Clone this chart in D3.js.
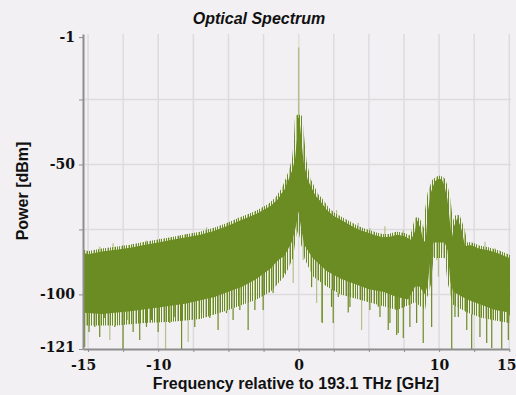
<!DOCTYPE html>
<html>
<head>
<meta charset="utf-8">
<script src="https://cdn.jsdelivr.net/npm/d3@7"></script>
<style>
  html, body { margin: 0; padding: 0; background: #f2f0f3; }
  svg { display: block; }
</style>
</head>
<body>
<figure id="spectrum" style="margin:0"></figure>
<script>
// upper edge of the dense noise band (GHz, dBm)
const topF = [-15.33, -15, -14, -13, -12, -11, -10, -9, -8, -7, -6, -5, -4, -3, -2, -1.5, -1, -0.7, -0.45, -0.25, -0.12, -0.05,
  0.05, 0.12, 0.22, 0.35, 0.65, 1.2, 1.5, 2, 2.5, 3, 3.5, 4, 4.5, 5, 5.5, 6, 6.5, 7, 7.5, 8, 8.25, 8.45, 8.7, 8.9, 9.05,
  9.2, 9.4, 9.7, 10, 10.2, 10.4, 10.6, 10.75, 10.9, 11.05, 11.3, 11.6, 11.85, 12.2, 12.5, 12.8, 13.5, 14.2, 15];
const topV = [-84, -84.5, -83.5, -82.8, -82, -81, -80, -79, -78, -77, -75.5, -73.5, -71.2, -69, -66, -63.5, -59.5, -55.5, -52, -47.5, -40, -32,
  -32, -36, -42, -49, -56, -62, -63.8, -67.5, -69.8, -71.3, -72.8, -74.3, -75.5, -76.4, -77.3, -78, -77.8, -77, -77.5, -79, -76, -71.5, -75, -80, -79,
  -68, -61, -56.5, -55.5, -55.8, -58.5, -63.5, -71, -78.5, -74, -70.5, -75, -81.5, -81, -81.5, -82.3, -83, -84.2, -86];

// lower edge of the solid part of the band
const lowF = [-15.33, -14, -12, -10, -8, -6, -5, -4, -3, -2, -1.5, -1, -0.5, -0.2, 0, 0.15, 0.4, 1, 2, 3, 4, 5, 6, 7, 7.8,
  8.3, 8.6, 9, 9.2, 9.4, 9.6, 10.4, 10.6, 10.8, 11, 12, 13, 14, 15];
const lowV = [-107, -107.5, -106.5, -105, -103.5, -101, -99, -97, -94, -90, -87, -85, -80, -74, -68, -74, -81, -86, -91, -94, -96, -98, -99, -101, -102,
  -97, -97, -100, -96, -85, -80, -80, -83, -95, -99, -102, -104, -106, -107];

// lower edge of the hairy fringe under the solid part
const fringeF = [-15.33, -13, -11, -9, -7, -5, -4, -3, -2, -1, -0.4, 0, 0.4, 1, 2, 3, 5, 7, 8.3, 9, 9.4, 9.6, 10.4, 10.8, 11, 12, 13, 14, 15];
const fringeV = [-112, -112, -111, -110.5, -109.5, -106, -104, -102, -99, -93, -86, -70, -86, -93, -97, -100, -103, -106, -103, -106, -92, -86, -86,
  -100, -104, -107, -109, -110, -111];

// downward spikes below the band
const dipsDark = [[-15.24, -120.2], [-14.93, -114.5], [-14.52, -112.5], [-14.17, -116.4], [-13.81, -109.1], [-13.1, -112.5],
  [-12.51, -121], [-12.15, -109.8], [-11.79, -114.5], [-11.32, -117.5], [-10.84, -112.5], [-10.48, -109.8], [-10.01, -114.5],
  [-9.18, -111], [-8.82, -108.7], [-8.34, -121], [-7.4, -112.5], [-6.92, -107.2], [-6.33, -109.1], [-5.74, -113.7],
  [-5.14, -107.2], [-4.67, -109.8], [-4.19, -106], [-3.6, -113.7], [-3.12, -106], [-2.53, -106], [-1.82, -99.5], [-0.98, -91.8],
  [0.92, -97.2], [1.68, -111], [2.34, -104.8], [2.46, -111], [2.82, -101], [3.53, -107], [3.65, -104.8], [5.07, -106],
  [5.67, -104.7], [5.79, -108.7], [6.38, -113.7], [6.5, -111], [6.98, -115.6], [7.09, -114.8], [7.45, -116.8], [7.92, -112.5],
  [8.4, -111], [8.87, -118.7], [9.47, -112.5], [10.9, -121], [11.13, -108.7], [11.37, -108.7], [11.97, -113.7], [12.32, -121],
  [12.91, -116.4], [13.39, -118.7], [13.75, -120.6], [14.46, -121], [14.93, -117.5]];
const dipsLight = [[-13.45, -117.5], [-9.48, -121], [-7.87, -118.3], [-0.39, -95.6], [0.32, -86.8], [1.28, -103.3], [1.63, -110.6],
  [4.48, -113.7], [8.33, -99.5], [9.1, -90.6], [9.58, -85.5], [9.83, -86.8], [9.95, -93.2], [10.3, -84], [10.54, -86.8]];

// faint spikes above the band
const upsLight = [[-15.24, -82.9], [-14.17, -81.7], [-13.22, -80.3], [-12.51, -81], [-11.79, -80.5], [-10.84, -79.3], [-9.89, -78.6],
  [-9.18, -78.2], [-8.47, -77.4], [-7.99, -76.8], [-6.56, -74.2], [-5.02, -72.3], [-4.31, -70.4], [-3.12, -68.5], [-2.29, -66.5],
  [-1.22, -61], [-0.86, -56], [2.7, -67.5], [4.24, -72.5], [5.07, -74.4], [6.14, -73.8], [7.45, -75.2], [13.27, -79.7], [13.98, -82.2]];

// carrier line at 0 GHz: freq, band top, line top, faint top
const carrier = [0, -32, -5, -1];

const xTicks = [-15, -10, 0, 10, 15];
const xGrid = [-15, -12.5, -10, -7.5, -5, -2.5, 0, 2.5, 5, 7.5, 10, 12.5, 15];
const yTicks = [-1, -50, -100, -121];
const yGrid = [-100, -75, -50, -25];

const width = 516, height = 395;
const green = "#6b8b23", lightGreen = "#b2c28a";

const svg = d3.select("figure#spectrum")
  .append("svg")
  .attr("width", width)
  .attr("height", height);

svg.append("rect").attr("width", width).attr("height", height).attr("fill", "#f2f0f3");

const defs = svg.append("defs");

// hair texture for the noisy edges
const hair = defs.append("pattern")
  .attr("id", "hair").attr("patternUnits", "userSpaceOnUse")
  .attr("width", 7).attr("height", 20);
hair.append("rect").attr("x", 0).attr("width", 1).attr("height", 20).attr("fill", green);
hair.append("rect").attr("x", 2).attr("width", 1).attr("height", 20).attr("fill", lightGreen);
hair.append("rect").attr("x", 3).attr("width", 1).attr("height", 20).attr("fill", green);
hair.append("rect").attr("x", 5).attr("width", 1).attr("height", 20).attr("fill", green);

defs.append("clipPath").attr("id", "plot")
  .append("rect").attr("x", 84).attr("y", 30).attr("width", 426.5).attr("height", 319);

const x = d3.scaleLinear().domain([-15.36, 15]).range([83, 509.3]);
const y = d3.scaleLinear().domain([-121, 0.2]).range([349, 34]);

const topAt = d3.scaleLinear().domain(topF).range(topV);
const lowAt = d3.scaleLinear().domain(lowF).range(lowV);

// grid
svg.append("g")
  .selectAll("line")
  .data(xGrid)
  .enter().append("line")
  .attr("x1", d => x(d)).attr("x2", d => x(d))
  .attr("y1", 34).attr("y2", 349)
  .attr("stroke", "#dedbdf").attr("stroke-width", 1.5);

svg.append("g")
  .selectAll("line")
  .data(yGrid)
  .enter().append("line")
  .attr("x1", 83).attr("x2", 511)
  .attr("y1", d => y(d)).attr("y2", d => y(d))
  .attr("stroke", "#dedbdf").attr("stroke-width", 1.5);

const plot = svg.append("g").attr("clip-path", "url(#plot)");

// spikes first, band drawn over them
const spikes = plot.append("g").attr("stroke-width", 1.2);

spikes.selectAll("line.ul")
  .data(upsLight)
  .enter().append("line")
  .attr("x1", d => x(d[0])).attr("x2", d => x(d[0]))
  .attr("y1", d => y(d[1])).attr("y2", d => y(topAt(d[0]) - 3))
  .attr("stroke", lightGreen);

spikes.selectAll("line.dl")
  .data(dipsLight)
  .enter().append("line")
  .attr("x1", d => x(d[0])).attr("x2", d => x(d[0]))
  .attr("y1", d => y(lowAt(d[0]) + 3)).attr("y2", d => y(d[1]))
  .attr("stroke", lightGreen);

spikes.selectAll("line.dd")
  .data(dipsDark)
  .enter().append("line")
  .attr("x1", d => x(d[0])).attr("x2", d => x(d[0]))
  .attr("y1", d => y(lowAt(d[0]) + 3)).attr("y2", d => y(d[1]))
  .attr("stroke", green);

// carrier spike
plot.append("line")
  .attr("x1", x(carrier[0])).attr("x2", x(carrier[0]))
  .attr("y1", y(carrier[3])).attr("y2", y(carrier[2]))
  .attr("stroke", "#dfe4d3").attr("stroke-width", 1.5);
plot.append("line")
  .attr("x1", x(carrier[0])).attr("x2", x(carrier[0]))
  .attr("y1", y(carrier[2])).attr("y2", y(carrier[1]))
  .attr("stroke", lightGreen).attr("stroke-width", 1.5);

// fringe under the band
const fringePts = lowF.map((f, i) => [x(f), y(lowV[i])])
  .concat(fringeF.map((f, i) => [x(f), y(fringeV[i])]).reverse());
plot.append("path")
  .attr("d", d3.line()(fringePts) + "Z")
  .attr("fill", "url(#hair)");

// band
const bandPts = topF.map((f, i) => [x(f), y(topV[i])])
  .concat(lowF.map((f, i) => [x(f), y(lowV[i])]).reverse());
const bandPath = d3.line()(bandPts) + "Z";

plot.append("path")
  .attr("d", bandPath)
  .attr("fill", "none")
  .attr("stroke", "url(#hair)")
  .attr("stroke-width", 6)
  .attr("stroke-linejoin", "round");

plot.append("path")
  .attr("d", bandPath)
  .attr("fill", green);

// axes
const xAxis = svg.append("g")
  .attr("transform", "translate(0,349)")
  .call(d3.axisBottom(x).tickValues(xGrid).tickSize(3).tickSizeOuter(0)
    .tickFormat(d => xTicks.includes(d) ? String(d) : ""));

const yAxis = svg.append("g")
  .attr("transform", "translate(83,0)")
  .call(d3.axisLeft(y).tickValues(yTicks.concat([-75, -25])).tickSize(4).tickSizeOuter(0)
    .tickFormat(d => yTicks.includes(d) ? String(d) : ""));

[xAxis, yAxis].forEach(g => {
  g.select(".domain").attr("stroke", "#8e8e8e").attr("stroke-width", 2);
  g.selectAll(".tick line").attr("stroke", "#8e8e8e");
  g.selectAll(".tick text")
    .attr("fill", "#111")
    .style("font-family", "'DejaVu Serif', serif")
    .style("font-weight", "bold")
    .style("font-size", "14px");
});

xAxis.selectAll(".tick text").attr("dy", "1.05em");
xAxis.selectAll(".tick text").filter(d => d === -15).attr("dx", -5);
xAxis.selectAll(".tick text").filter(d => d === 15).attr("dx", -3);
yAxis.selectAll(".tick text").attr("x", -8);
yAxis.selectAll(".tick text").filter(d => d === -121).attr("dy", "0.2em");

// titles
svg.append("text")
  .attr("x", 259).attr("y", 24)
  .attr("text-anchor", "middle")
  .style("font-family", "'Liberation Sans', Arial, sans-serif")
  .style("font-weight", "bold").style("font-style", "italic")
  .style("font-size", "16px")
  .attr("fill", "#111")
  .text("Optical Spectrum");

svg.append("text")
  .attr("x", 296).attr("y", 389)
  .attr("text-anchor", "middle")
  .style("font-family", "'Liberation Sans', Arial, sans-serif")
  .style("font-weight", "bold")
  .style("font-size", "16px")
  .attr("fill", "#111")
  .text("Frequency relative to 193.1 THz [GHz]");

svg.append("text")
  .attr("transform", "translate(28,191) rotate(-90)")
  .attr("text-anchor", "middle")
  .style("font-family", "'Liberation Sans', Arial, sans-serif")
  .style("font-weight", "bold")
  .style("font-size", "16px")
  .attr("fill", "#111")
  .text("Power [dBm]");
</script>
</body>
</html>
